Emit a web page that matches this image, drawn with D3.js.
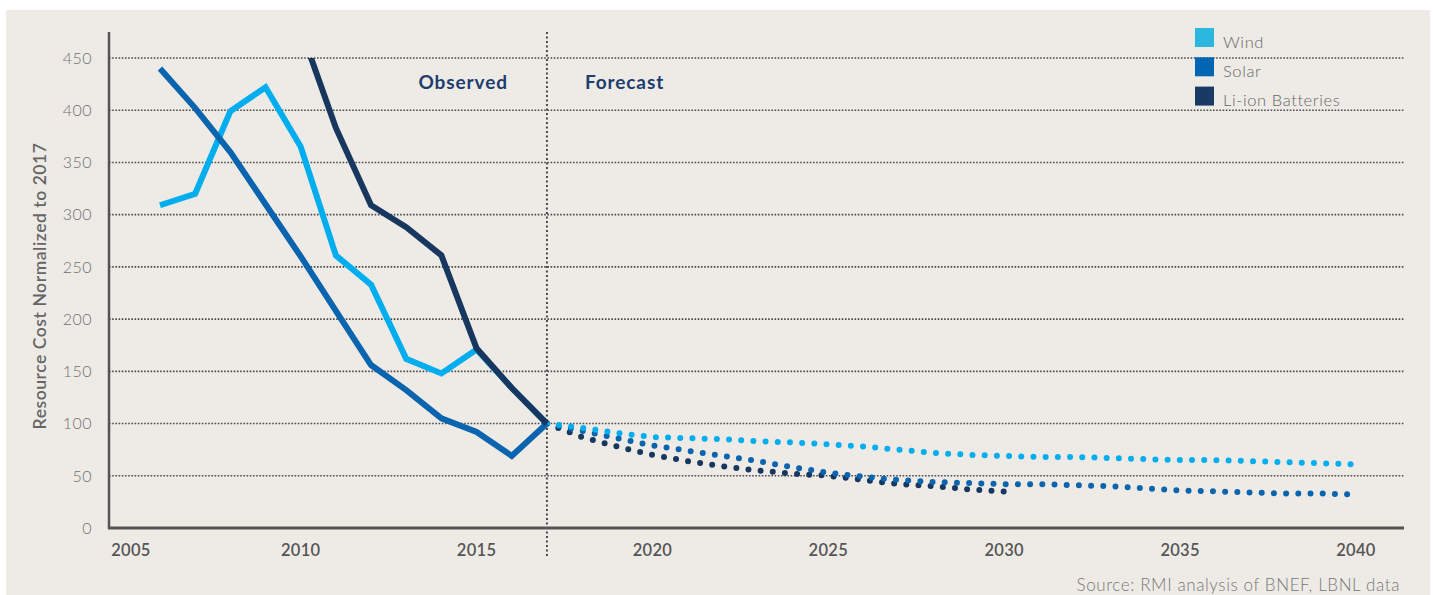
<!DOCTYPE html>
<html>
<head>
<meta charset="utf-8">
<script src="https://cdn.jsdelivr.net/npm/d3@7"></script>
<style>
  body { margin: 0; background: #fff; }
  svg { display: block; font-family: Lato, "Open Sans", sans-serif; }
</style>
</head>
<body>
<svg width="1433" height="595"></svg>
<script>
// observed years and values
const obsYears = [2006, 2007, 2008, 2009, 2010, 2011, 2012, 2013, 2014, 2015, 2016, 2017];
const windObs = [309, 320, 399, 422, 365, 261, 233, 162, 148, 171, 134, 100];
const solarObs = [440, 402, 360, 310, 260, 208, 156, 132, 105, 92, 69, 100];
const battYears = [2010, 2011, 2012, 2013, 2014, 2015, 2016, 2017];
const battObs = [478, 383, 309, 288, 261, 172, 134, 100];

// forecast
const fcYears = [2017, 2018, 2019, 2020, 2021, 2022, 2023, 2024, 2025, 2026, 2027, 2028,
  2029, 2030, 2031, 2032, 2033, 2034, 2035, 2036, 2037, 2038, 2039, 2040];
const windFc = [100, 96, 91, 87, 86, 85, 83, 82, 80, 78, 75, 72, 70, 69, 68, 68, 67, 66, 65, 65, 64, 63, 62, 61];
const solarFc = [100, 93, 86, 79, 74, 69, 64, 58, 53, 49, 46, 44, 43, 42, 42, 41, 40, 38, 36, 35, 34, 33, 33, 32];
const battFcYears = [2017, 2018, 2019, 2020, 2021, 2022, 2023, 2024, 2025, 2026, 2027, 2028, 2029, 2030];
const battFc = [100, 87, 78, 70, 64, 59, 55, 52, 50, 46, 42, 40, 37, 35];

const yTicks = [0, 50, 100, 150, 200, 250, 300, 350, 400, 450];
const xTicks = [2005, 2010, 2015, 2020, 2025, 2030, 2035, 2040];
const seriesNames = ["Wind", "Solar", "Li-ion Batteries"];
const legendColors = ["#2cb8de", "#0066b3", "#1a3a66"];
const lineColors = ["#00aeef", "#0a64ae", "#17375f"];

const svg = d3.select("svg");

svg.append("rect")
  .attr("x", 6).attr("y", 10).attr("width", 1424).attr("height", 590)
  .attr("fill", "#eeebe7");

const x = d3.scaleLinear().domain([2006, 2040]).range([160, 1356]);
const y = d3.scaleLinear().domain([0, 450]).range([528, 58]);

const axLeft = 109, axRight = 1404;

// gridlines
svg.append("g").selectAll("line")
  .data(yTicks.filter(d => d > 0))
  .join("line")
  .attr("x1", axLeft).attr("x2", axRight)
  .attr("y1", d => y(d)).attr("y2", d => y(d))
  .attr("stroke", "#4a4a4a").attr("stroke-width", 1.6)
  .attr("stroke-dasharray", "1.6,1.6");

// y tick labels
svg.append("g").selectAll("text")
  .data(yTicks)
  .join("text")
  .attr("x", 92).attr("y", d => y(d))
  .attr("dy", "0.36em")
  .attr("text-anchor", "end")
  .attr("font-size", 16).attr("font-weight", 300)
  .attr("letter-spacing", 0.5)
  .attr("fill", "#6f6f6f")
  .text(d => d);

// x tick labels
svg.append("g").selectAll("text")
  .data(xTicks)
  .join("text")
  .attr("x", d => Math.max(x(d), axLeft + 22))
  .attr("y", 556)
  .attr("text-anchor", "middle")
  .attr("font-size", 16.5).attr("font-weight", 600)
  .attr("letter-spacing", 0.3)
  .attr("fill", "#555")
  .text(d => d);

// divider between observed and forecast
svg.append("line")
  .attr("x1", x(2017)).attr("x2", x(2017))
  .attr("y1", 32).attr("y2", 556)
  .attr("stroke", "#4a4a4a").attr("stroke-width", 2)
  .attr("stroke-dasharray", "2,2.5");

svg.append("text")
  .attr("x", x(2017) - 39).attr("y", 89)
  .attr("text-anchor", "end")
  .attr("font-size", 19).attr("font-weight", 700)
  .attr("letter-spacing", 0.9)
  .attr("fill", "#1d3d6e")
  .text("Observed");
svg.append("text")
  .attr("x", x(2017) + 38).attr("y", 89)
  .attr("font-size", 19).attr("font-weight", 700)
  .attr("letter-spacing", 0.9)
  .attr("fill", "#1d3d6e")
  .text("Forecast");

svg.append("defs").append("clipPath").attr("id", "plot")
  .append("rect").attr("x", axLeft).attr("y", y(450)).attr("width", axRight - axLeft).attr("height", y(0) - y(450));

const line = d3.line().x(d => x(d[0])).y(d => y(d[1]));
const zip = (a, b) => a.map((v, i) => [v, b[i]]);

const plot = svg.append("g").attr("clip-path", "url(#plot)");

// forecast dotted lines
const fc = [
  [zip(battFcYears, battFc), lineColors[2]],
  [zip(fcYears, solarFc), lineColors[1]],
  [zip(fcYears, windFc), lineColors[0]]
];
fc.forEach(([pts, c]) => {
  plot.append("path")
    .attr("d", line(pts))
    .attr("fill", "none")
    .attr("stroke", c).attr("stroke-width", 6)
    .attr("stroke-linecap", "round")
    .attr("stroke-dasharray", "0,12.2");
});

// observed solid lines
const obs = [
  [zip(obsYears, windObs), lineColors[0]],
  [zip(obsYears, solarObs), lineColors[1]],
  [zip(battYears, battObs), lineColors[2]]
];
obs.forEach(([pts, c]) => {
  plot.append("path")
    .attr("d", line(pts))
    .attr("fill", "none")
    .attr("stroke", c).attr("stroke-width", 6)
    .attr("stroke-linejoin", "miter");
});

// axes
svg.append("line")
  .attr("x1", axLeft).attr("x2", axLeft).attr("y1", 32).attr("y2", 529)
  .attr("stroke", "#555").attr("stroke-width", 2.5);
svg.append("line")
  .attr("x1", axLeft - 1).attr("x2", axRight).attr("y1", 528).attr("y2", 528)
  .attr("stroke", "#555").attr("stroke-width", 3);

// y title
svg.append("text")
  .attr("transform", "translate(46,286) rotate(-90)")
  .attr("text-anchor", "middle")
  .attr("font-size", 17.5).attr("font-weight", 600)
  .attr("letter-spacing", 0.55)
  .attr("fill", "#666")
  .text("Resource Cost Normalized to 2017");

// legend
const lg = svg.append("g").selectAll("g")
  .data(seriesNames)
  .join("g")
  .attr("transform", (d, i) => `translate(1195,${28 + i * 29.3})`);
lg.append("rect").attr("width", 19).attr("height", 19)
  .attr("fill", (d, i) => legendColors[i]);
lg.append("text").attr("x", 28).attr("y", 19.5)
  .attr("font-size", 16.5).attr("font-weight", 300)
  .attr("letter-spacing", 0.6)
  .attr("fill", "#666")
  .text(d => d);

svg.append("text")
  .attr("x", 1400).attr("y", 591)
  .attr("text-anchor", "end")
  .attr("font-size", 17).attr("font-weight", 300)
  .attr("letter-spacing", 0.6)
  .attr("fill", "#777")
  .text("Source: RMI analysis of BNEF, LBNL data");
</script>
</body>
</html>
